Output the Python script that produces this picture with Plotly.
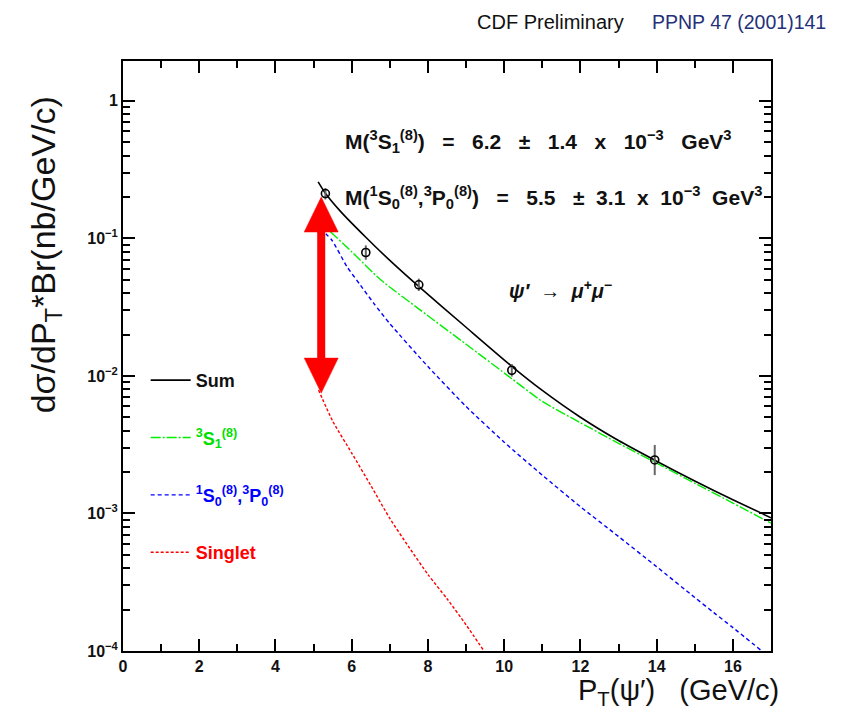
import plotly.graph_objects as go

# ---------------- data ----------------
pt_points = [5.31, 6.37, 7.76, 10.2, 13.95]
xs_points = [0.212, 0.079, 0.046, 0.0110, 0.00245]
err_plus = [0.02, 0.010, 0.005, 0.0012, 0.0007]
err_minus = [0.02, 0.009, 0.0045, 0.0011, 0.00055]

sum_x = [5.12, 5.3, 5.7, 6.37, 7.0, 7.72, 9.0, 10.2, 11.0, 12.0, 13.0, 14.0, 15.0, 16.0, 17.0]
sum_y = [0.258, 0.215, 0.158, 0.102, 0.0692, 0.0457, 0.0226, 0.01175, 0.00785, 0.00501, 0.00339, 0.0024, 0.00172, 0.00126, 0.00093]

s1_x = [5.44, 6.0, 6.76, 7.81, 9.0, 10.2, 11.0, 12.0, 13.0, 14.0, 15.0, 16.0, 17.0]
s1_y = [0.112, 0.080, 0.050, 0.030, 0.017, 0.00955, 0.00653, 0.00457, 0.00324, 0.00232, 0.00166, 0.00119, 0.00085]

p0_x = [5.18, 5.48, 5.88, 6.23, 6.58, 7.0, 8.0, 9.0, 10.0, 11.0, 12.0, 13.0, 14.0, 15.0, 15.5, 16.0, 16.76]
p0_y = [0.118, 0.097, 0.062, 0.0457, 0.0337, 0.024, 0.0117, 0.0060, 0.0033, 0.0019, 0.00112, 0.00068, 0.00041, 0.000245, 0.00019, 0.000148, 0.0001]

sg_x = [5.13, 5.5, 6.0, 6.5, 7.0, 7.5, 8.0, 8.5, 9.0, 9.47]
sg_y = [0.0079, 0.0047, 0.00275, 0.00160, 0.00092, 0.00057, 0.00036, 0.00024, 0.000155, 0.0001]

arrow_x = 5.2
arrow_top = 0.2
arrow_bottom = 0.0075

x_range = [0, 17]
y_log_range = [-4, 0.29]
x_major = [0, 2, 4, 6, 8, 10, 12, 14, 16]
x_minor = [1, 3, 5, 7, 9, 11, 13, 15, 17]
y_major = [1e-4, 1e-3, 1e-2, 1e-1, 1]
y_labels = ["10<sup>\u22124</sup>", "10<sup>\u22123</sup>", "10<sup>\u22122</sup>", "10<sup>\u22121</sup>", "1"]
y_minor = [m * 10 ** e for e in range(-4, 1) for m in range(2, 10)]

FONT = "Liberation Sans"
NB = "\u00a0"
W, H = 853, 712
ML, MR, MT, MB = 123, 82, 61, 61

fig = go.Figure()

fig.add_trace(go.Scatter(
    x=sum_x, y=sum_y, mode="lines", line=dict(color="black", width=1.6, shape="spline", smoothing=0.6),
    name="<span style='color:#111'>Sum</span>", legendgroup="a"))
fig.add_trace(go.Scatter(
    x=s1_x, y=s1_y, mode="lines", line=dict(color="#00ee00", width=1.4, dash="10px,2px,2px,2px", shape="spline", smoothing=0.6),
    name="<span style='color:#00e000'><sup>3</sup>S<sub>1</sub><sup>(8)</sup></span>", legendgroup="b"))
fig.add_trace(go.Scatter(
    x=p0_x, y=p0_y, mode="lines", line=dict(color="#0000ff", width=1.4, dash="4px,3px", shape="spline", smoothing=0.6),
    name="<span style='color:#0000ff'><sup>1</sup>S<sub>0</sub><sup>(8)</sup>,<sup>3</sup>P<sub>0</sub><sup>(8)</sup></span>",
    legendgroup="c"))
fig.add_trace(go.Scatter(
    x=sg_x, y=sg_y, mode="lines", line=dict(color="#ff0000", width=1.4, dash="3px,2px", shape="spline", smoothing=0.6),
    name="<span style='color:#ff0000'>Singlet</span>", legendgroup="d"))

fig.add_trace(go.Scatter(
    x=pt_points, y=xs_points, mode="markers", showlegend=False,
    marker=dict(symbol="circle-open", size=8, color="black", line=dict(width=1.6)),
    error_y=dict(type="data", symmetric=False, array=err_plus, arrayminus=err_minus,
                 color="#666", thickness=2, width=0)))

# red double arrow (head size given in pixels, converted with the axis scale)
px_per_x = (W - ML - MR) / (x_range[1] - x_range[0])
px_per_dec = (H - MT - MB) / (y_log_range[1] - y_log_range[0])
head_half_w = 17 / px_per_x
head_len = 10 ** (35 / px_per_dec)
top_base = arrow_top / head_len
bot_base = arrow_bottom * head_len
fig.add_trace(go.Scatter(x=[arrow_x, arrow_x], y=[bot_base, top_base], mode="lines",
                         line=dict(color="#ff0000", width=8), showlegend=False, hoverinfo="skip"))
fig.add_trace(go.Scatter(x=[arrow_x - head_half_w, arrow_x + head_half_w, arrow_x, arrow_x - head_half_w],
                         y=[top_base, top_base, arrow_top, top_base], mode="lines", fill="toself",
                         fillcolor="#ff0000", line=dict(color="#ff0000", width=0.5), showlegend=False,
                         hoverinfo="skip"))
fig.add_trace(go.Scatter(x=[arrow_x - head_half_w, arrow_x + head_half_w, arrow_x, arrow_x - head_half_w],
                         y=[bot_base, bot_base, arrow_bottom, bot_base], mode="lines", fill="toself",
                         fillcolor="#ff0000", line=dict(color="#ff0000", width=0.5), showlegend=False,
                         hoverinfo="skip"))


def note(x, y, text, size, color="#111", weight="normal", angle=0, xanchor="center"):
    fig.add_annotation(x=x, y=y, xref="paper", yref="paper", xanchor=xanchor, yanchor="middle",
                       showarrow=False, text=text, textangle=angle,
                       font=dict(family=FONT, size=size, color=color, weight=weight))


s3 = NB * 3
s2 = NB * 2
note(0.34, 0.863,
     "M(<sup>3</sup>S<sub>1</sub><sup>(8)</sup>)" + s3 + "=" + s3 + "6.2" + s3 + "\u00b1" + s3 + "1.4" + s3 + "x" + s3
     + "10<sup>\u22123</sup>" + s3 + "GeV<sup>3</sup>", 21, weight="bold", xanchor="left")
note(0.34, 0.769,
     "M(<sup>1</sup>S<sub>0</sub><sup>(8)</sup>,<sup>3</sup>P<sub>0</sub><sup>(8)</sup>)" + s3 + "=" + s3 + "5.5" + s3
     + "\u00b1" + s2 + "3.1" + s2 + "x" + s2 + "10<sup>\u22123</sup>" + s2 + "GeV<sup>3</sup>", 21, weight="bold",
     xanchor="left")
note(0.675, 0.612, "<i>\u03c8\u2032" + s2 + "\u2192" + s2 + "\u03bc<sup>+</sup>\u03bc<sup>\u2212</sup></i>", 20,
     weight="bold")
note(0.66, 1.066, "CDF Preliminary", 20)
note(0.951, 1.066, "PPNP 47 (2001)141", 19.5, color="#24307a")
note(-0.12, 0.671, "d\u03c3/dP<sub>T</sub>*Br(nb/GeV/c)", 34, angle=-90)
note(0.857, -0.07, "P<sub>T</sub>(\u03c8\u2032)" + s3 + "(GeV/c)", 29)

fig.update_xaxes(
    range=x_range, tickmode="array", tickvals=x_major, ticks="inside", ticklen=12, tickwidth=2,
    tickcolor="black", showline=True, linecolor="black", linewidth=2, mirror="allticks",
    showgrid=False, zeroline=False,
    tickfont=dict(family=FONT, size=16, color="#111", weight="bold"),
    minor=dict(tickmode="array", tickvals=x_minor, ticks="inside", ticklen=7, tickwidth=2,
               tickcolor="black", showgrid=False))
fig.update_yaxes(
    type="log", range=y_log_range, tickmode="array", tickvals=y_major, ticktext=y_labels,
    ticks="inside", ticklen=12, tickwidth=2, tickcolor="black", showline=True, linecolor="black",
    linewidth=2, mirror="allticks", showgrid=False, zeroline=False,
    tickfont=dict(family=FONT, size=16, color="#111", weight="bold"),
    minor=dict(tickmode="array", tickvals=y_minor, ticks="inside", ticklen=7, tickwidth=2,
               tickcolor="black", showgrid=False))

fig.update_layout(
    width=W, height=H, margin=dict(l=ML, r=MR, t=MT, b=MB),
    paper_bgcolor="white", plot_bgcolor="white",
    font=dict(family=FONT),
    legend=dict(x=0.035, y=0.49, xanchor="left", yanchor="top", bgcolor="rgba(0,0,0,0)",
                font=dict(family=FONT, size=18, weight="bold"), tracegroupgap=31,
                traceorder="grouped", itemwidth=40),
)

fig.write_html("out.html")
